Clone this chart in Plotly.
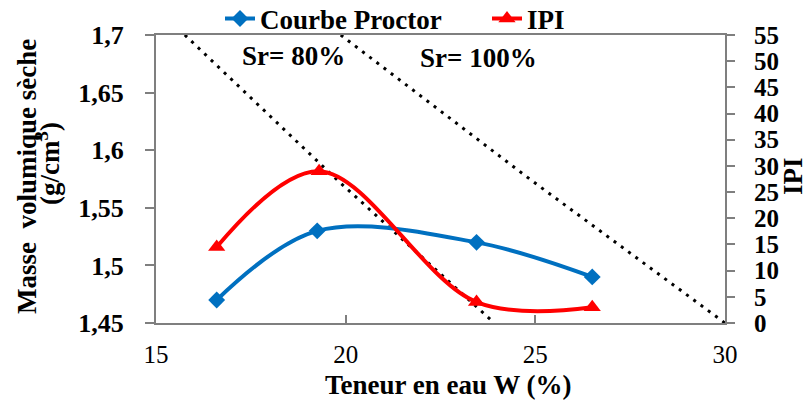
import plotly.graph_objects as go

# Data
w_proctor = [16.6, 19.25, 23.45, 26.5]
gamma_d = [1.47, 1.53, 1.52, 1.49]
w_ipi = [16.6, 19.3, 23.45, 26.5]
ipi = [14.5, 29.0, 4.0, 3.0]
sr80_w = [15.76, 19.75, 23.92]
sr80_g = [1.70, 1.575, 1.45]
sr100_w = [19.87, 24.85, 30.0]
sr100_g = [1.70, 1.575, 1.45]

FONT = "Liberation Serif"
BLUE = "#0070C0"
RED = "#FF0000"

W, H = 809, 403
L, R, T, B = 156, 84, 35, 80
PW, PH = W - L - R, H - T - B


def px_x(x):
    return (x - L) / PW


def px_y(y):
    return (H - B - y) / PH


fig = go.Figure()
fig.add_trace(go.Scatter(x=sr80_w, y=sr80_g, mode="lines", showlegend=False,
                         line=dict(color="black", width=3, dash="3px,6px"), hoverinfo="skip"))
fig.add_trace(go.Scatter(x=sr100_w, y=sr100_g, mode="lines", showlegend=False,
                         line=dict(color="black", width=3, dash="3px,6px"), hoverinfo="skip"))
fig.add_trace(go.Scatter(x=w_proctor, y=gamma_d, mode="lines+markers", name="Courbe Proctor",
                         line=dict(color=BLUE, width=4, shape="spline", smoothing=1),
                         marker=dict(symbol="diamond", size=13, color=BLUE)))
fig.add_trace(go.Scatter(x=w_ipi, y=ipi, mode="lines+markers", name="IPI", yaxis="y2",
                         line=dict(color=RED, width=4, shape="spline", smoothing=1),
                         marker=dict(symbol="triangle-up", size=15, color=RED)))

axis_line = dict(showline=True, linecolor="#7f7f7f", linewidth=2, showgrid=False, zeroline=False)

fig.update_layout(
    width=W, height=H,
    margin=dict(l=L, r=R, t=T, b=B, autoexpand=False),
    plot_bgcolor="white", paper_bgcolor="white",
    separators=", ",
    font=dict(family=FONT, color="black"),
    xaxis=dict(range=[15, 30], tickvals=[15, 20, 25, 30], ticks="inside", ticklen=8,
               tickcolor="#7f7f7f", tickwidth=2, mirror=True, ticklabelstandoff=8,
               tickfont=dict(family=FONT, size=25, color="black"), **axis_line),
    yaxis=dict(range=[1.45, 1.7], tickvals=[1.45, 1.5, 1.55, 1.6, 1.65, 1.7], ticks="outside",
               ticklen=9, tickcolor="#7f7f7f", tickwidth=2, ticklabelstandoff=16,
               tickfont=dict(family=FONT, size=26, color="black", weight="bold"), **axis_line),
    yaxis2=dict(range=[0, 55], dtick=5, overlaying="y", side="right", ticks="outside",
                ticklen=8, tickcolor="#7f7f7f", tickwidth=2, ticklabelstandoff=14,
                tickfont=dict(family=FONT, size=25, color="black", weight="bold"), **axis_line),
    legend=dict(orientation="h", xref="container", yref="container",
                x=220 / W, xanchor="left", y=1 - 19 / H, yanchor="middle",
                font=dict(family=FONT, size=27, color="black", weight="bold"),
                bgcolor="rgba(0,0,0,0)", entrywidth=222, entrywidthmode="pixels",
                tracegroupgap=0),
    showlegend=True,
)

fig.add_annotation(text="<b>Sr= 80%</b>", x=px_x(293), y=px_y(56), xref="paper", yref="paper",
                   xanchor="center", yanchor="middle",
                   showarrow=False, font=dict(family=FONT, size=27, color="black"))
fig.add_annotation(text="<b>Sr= 100%</b>", x=px_x(478), y=px_y(58), xref="paper", yref="paper",
                   xanchor="center", yanchor="middle",
                   showarrow=False, font=dict(family=FONT, size=27, color="black"))
fig.add_annotation(text="<b>Teneur en eau W (%)</b>", x=px_x(449), y=px_y(385), xref="paper",
                   yref="paper", xanchor="center", yanchor="middle", showarrow=False,
                   font=dict(family=FONT, size=27, color="black"))
fig.add_annotation(text="<b>Masse  volumique sèche</b>", x=px_x(27), y=px_y(177),
                   xref="paper", yref="paper", xanchor="center", yanchor="middle",
                   textangle=-90, showarrow=False,
                   font=dict(family=FONT, size=27, color="black"))
fig.add_annotation(text="<b>(g/cm<sup>3</sup>)</b>", x=px_x(48), y=px_y(164),
                   xref="paper", yref="paper", xanchor="center", yanchor="middle",
                   textangle=-90, showarrow=False,
                   font=dict(family=FONT, size=27, color="black"))
fig.add_annotation(text="<b>IPI</b>", x=px_x(793), y=px_y(176), xref="paper",
                   yref="paper", xanchor="center", yanchor="middle", textangle=-90,
                   showarrow=False, font=dict(family=FONT, size=27, color="black"))

fig.write_html("out.html")
